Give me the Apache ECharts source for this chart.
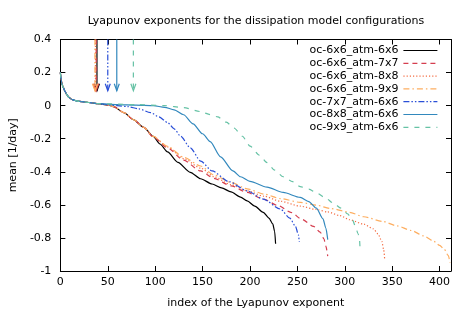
<!DOCTYPE html>
<html><head><meta charset="utf-8">
<script src="https://cdn.jsdelivr.net/npm/echarts@6/dist/echarts.min.js"></script>
<style>html,body{margin:0;padding:0;background:#fff}#c{width:472px;height:314px}</style>
</head><body><div id="c"></div>
<script>
var seriesNames = ['oc-6x6_atm-6x6','oc-6x6_atm-7x7','oc-6x6_atm-8x8','oc-6x6_atm-9x9','oc-7x7_atm-6x6','oc-8x8_atm-6x6','oc-9x9_atm-6x6'];
var xTicks = [0,50,100,150,200,250,300,350,400];
var yTicks = [-1,-0.8,-0.6,-0.4,-0.2,0,0.2,0.4];

// common start of all spectra (index, value)
var startIdx = [0,1,2,3,5,7,9,12,15,20,30,40];
var startVal = [0.2,0.15,0.125,0.11,0.085,0.065,0.05,0.038,0.032,0.026,0.019,0.012];

var idx_6x6_6x6 = [50,56,67,77,88,98,105,113,124,137,148,160,170,180,190,197,205,214,220,224,226,227];
var val_6x6_6x6 = [0.004,-0.006,-0.042,-0.084,-0.132,-0.186,-0.232,-0.28,-0.343,-0.403,-0.442,-0.474,-0.497,-0.522,-0.553,-0.576,-0.608,-0.645,-0.68,-0.715,-0.76,-0.835];

var idx_6x6_7x7 = [50,56,67,77,88,98,113,130,148,162,180,197,214,230,243,255,267,274,278,280,282];
var val_6x6_7x7 = [0.004,-0.006,-0.042,-0.084,-0.132,-0.19,-0.255,-0.33,-0.395,-0.44,-0.485,-0.525,-0.565,-0.605,-0.645,-0.688,-0.73,-0.765,-0.805,-0.85,-0.91];

var idx_6x6_8x8 = [50,56,67,77,88,98,113,130,148,162,180,197,215,232,253,270,282,295,305,320,330,335,339,341,342];
var val_6x6_8x8 = [0.004,-0.006,-0.042,-0.084,-0.132,-0.186,-0.25,-0.32,-0.378,-0.43,-0.478,-0.515,-0.548,-0.578,-0.608,-0.628,-0.643,-0.665,-0.69,-0.717,-0.745,-0.775,-0.82,-0.87,-0.925];

var idx_6x6_9x9 = [50,56,67,77,88,98,113,130,148,162,180,197,215,232,253,270,285,305,320,340,355,370,383,393,400,405,409,411];
var val_6x6_9x9 = [0.004,-0.006,-0.042,-0.084,-0.132,-0.186,-0.246,-0.312,-0.365,-0.42,-0.465,-0.503,-0.535,-0.562,-0.585,-0.602,-0.622,-0.645,-0.672,-0.7,-0.727,-0.755,-0.787,-0.817,-0.845,-0.87,-0.905,-0.95];

var idx_7x7_6x6 = [60,71,83,95,104,113,120,127,137,148,160,178,197,214,232,242,248,251,252];
var val_7x7_6x6 = [0.0,-0.006,-0.02,-0.042,-0.068,-0.102,-0.14,-0.186,-0.255,-0.335,-0.395,-0.46,-0.515,-0.565,-0.625,-0.68,-0.73,-0.78,-0.825];

var idx_8x8_6x6 = [60,80,98,110,120,130,140,150,158,169,182,190,200,218,235,253,262,270,277,280,282];
var val_8x8_6x6 = [0.006,0.003,0.0,-0.01,-0.025,-0.055,-0.11,-0.17,-0.218,-0.31,-0.395,-0.43,-0.458,-0.493,-0.525,-0.555,-0.58,-0.62,-0.685,-0.74,-0.81];

var idx_9x9_6x6 = [80,110,130,148,158,166,175,183,192,200,210,218,226,235,245,253,262,271,280,288,296,303,308,311,314,315.5,316];
var val_9x9_6x6 = [0.006,0.0,-0.012,-0.036,-0.054,-0.068,-0.1,-0.135,-0.185,-0.245,-0.3,-0.345,-0.39,-0.43,-0.46,-0.49,-0.505,-0.53,-0.56,-0.59,-0.62,-0.655,-0.69,-0.727,-0.775,-0.81,-0.855];

// arrows: index position, start value, tip value
var arrowIdx = [38.6,37.8,37,36.5,50,59.5,77];
var arrowTop = 0.4;
var arrowTip = 0.09;

var colors = ['#000000','#d53e4f','#f46d43','#fdae61','#2a4fd7','#3288bd','#66c2a5'];
var dashes = ['solid',[5,4],[1.2,2],[6,3,1.5,3],[6,2,1.5,2,1.5,2],'solid',[5,6]];

var idxArrays = [idx_6x6_6x6,idx_6x6_7x7,idx_6x6_8x8,idx_6x6_9x9,idx_7x7_6x6,idx_8x8_6x6,idx_9x9_6x6];
var valArrays = [val_6x6_6x6,val_6x6_7x7,val_6x6_8x8,val_6x6_9x9,val_7x7_6x6,val_8x8_6x6,val_9x9_6x6];

function pts(ix, vals){
  var out = [];
  for (var i=0;i<startIdx.length;i++) out.push([startIdx[i], startVal[i]]);
  for (var j=0;j<ix.length;j++) out.push([ix[j], vals[j]]);
  return out;
}

var FONT = 'DejaVu Sans';
var series = [];
for (var k=0;k<seriesNames.length;k++){
  series.push({
    name: seriesNames[k], type:'line', data: pts(idxArrays[k], valArrays[k]),
    symbol:'none', smooth:0.25, smoothMonotone:'x', clip:true,
    lineStyle:{color:colors[k], width:1.2, type:dashes[k]},
    itemStyle:{color:colors[k]}, z: 2+k
  });
}
for (var a=0;a<arrowIdx.length;a++){
  (function(c, d){
    series.push({
      name:'arrow'+a, type:'custom', data:[[arrowIdx[a], arrowTop, arrowTip]],
      encode:{x:0, y:[1,2]}, z: 2+a, silent:true,
      renderItem:function(params, api){
        var p0 = api.coord([api.value(0), api.value(1)]);
        var p1 = api.coord([api.value(0), api.value(2)]);
        return {type:'group', children:[
          {type:'line', shape:{x1:p0[0],y1:p0[1],x2:p1[0],y2:p1[1]}, style:{stroke:c, lineWidth:1.2, lineDash: d==='solid'?null:d, fill:null}},
          {type:'polyline', shape:{points:[[p1[0]-2.5,p1[1]-7],[p1[0],p1[1]],[p1[0]+2.5,p1[1]-7]]}, style:{stroke:c, lineWidth:1.2, fill:null}}
        ]};
      }
    });
  })(colors[a], dashes[a]);
}

var axisLineStyle = {show:true, onZero:false, lineStyle:{color:'#000', width:1}};
var chart = echarts.init(document.getElementById('c'), null, {renderer:'canvas'});
chart.setOption({
  animation:false,
  textStyle:{fontFamily:FONT},
  title:{text:'Lyapunov exponents for the dissipation model configurations', left:251, top:11, textAlign:'center',
    textStyle:{fontFamily:FONT, fontSize:11, fontWeight:'normal', color:'#000'}},
  grid:{left:59.5, right:21, top:39.5, bottom:41.5, containLabel:false},
  legend:{data:seriesNames, orient:'vertical', right:29, top:40, align:'right', itemWidth:34, itemHeight:10, itemGap:1.8,
    itemStyle:{opacity:0}, lineStyle:{width:1.2},
    textStyle:{fontFamily:FONT, fontSize:11, color:'#000'}, selectedMode:false},
  xAxis:[
    {type:'value', min:0, max:412, interval:50, position:'bottom',
     name:'index of the Lyapunov exponent', nameLocation:'middle', nameGap:27,
     nameTextStyle:{fontFamily:FONT, fontSize:11, color:'#000'},
     axisLine:axisLineStyle, axisTick:{show:true, inside:true, length:5, lineStyle:{color:'#000'}},
     axisLabel:{fontFamily:FONT, fontSize:11, color:'#000', margin:6, showMaxLabel:false,
       formatter:function(v){return xTicks.indexOf(v)>=0? String(v):'';}},
     splitLine:{show:false}},
    {type:'value', min:0, max:412, interval:50, position:'top',
     axisLine:axisLineStyle, axisTick:{show:true, inside:true, length:5, lineStyle:{color:'#000'}},
     axisLabel:{show:false}, splitLine:{show:false}}
  ],
  yAxis:[
    {type:'value', min:-1, max:0.4, interval:0.2, position:'left',
     name:'mean [1/day]', nameLocation:'middle', nameGap:40, nameRotate:90,
     nameTextStyle:{fontFamily:FONT, fontSize:11, color:'#000'},
     axisLine:axisLineStyle, axisTick:{show:true, inside:true, length:5, lineStyle:{color:'#000'}},
     axisLabel:{fontFamily:FONT, fontSize:11, color:'#000', margin:9,
       formatter:function(v){var r=Math.round(v*10)/10; return yTicks.indexOf(r)>=0? String(r):'';}},
     splitLine:{show:false}},
    {type:'value', min:-1, max:0.4, interval:0.2, position:'right',
     axisLine:axisLineStyle, axisTick:{show:true, inside:true, length:5, lineStyle:{color:'#000'}},
     axisLabel:{show:false}, splitLine:{show:false}}
  ],
  series: series
});
</script></body></html>
